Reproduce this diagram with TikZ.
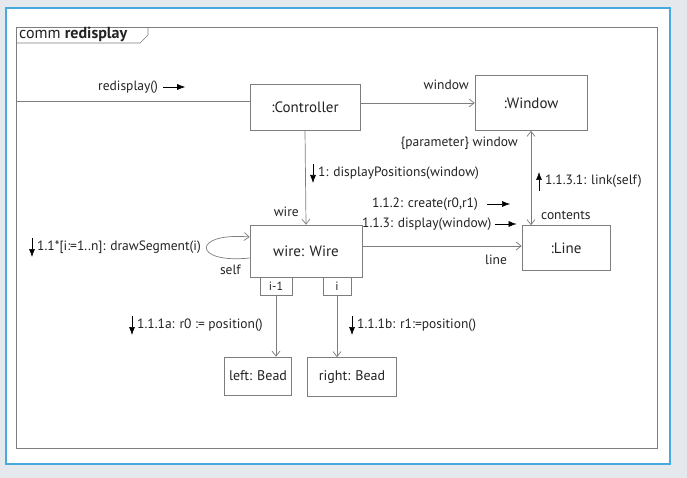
\documentclass[tikz,border=0pt]{standalone}
\usepackage{fontspec}
\setmainfont{PT Sans}
\usetikzlibrary{arrows.meta}
\definecolor{bgc}{RGB}{229,233,237}
\definecolor{panelb}{RGB}{70,170,225}
\definecolor{linec}{RGB}{125,125,125}
\definecolor{txtc}{RGB}{35,35,35}
\tikzset{
  obj/.style={draw=linec, line width=0.7pt, fill=white, inner sep=0pt, text=txtc, font=\fontsize{15}{17}\selectfont},
  port/.style={draw=linec, line width=0.6pt, fill=white, inner sep=0pt, text=txtc, font=\fontsize{12}{14}\selectfont, minimum height=18pt},
  lbl/.style={text=txtc, font=\fontsize{13.5}{15}\selectfont, inner sep=0pt},
  conn/.style={draw=linec, line width=0.7pt, -{Straight Barb[length=5pt,width=8pt]}},
  msg/.style={draw=black, line width=0.6pt, -{Latex[length=8pt,width=6pt]}},
}
\begin{document}
\begin{tikzpicture}[x=1pt,y=-1pt]
\useasboundingbox (0,0) rectangle (687,478);
\fill[bgc] (0,0) rectangle (687,478);
\draw[panelb, line width=1.6pt, fill=white] (6,8) rectangle (670,464);
\draw[linec, line width=0.7pt] (16,27) rectangle (657,448);
\draw[linec, line width=0.7pt] (16,43) -- (140,43) -- (148,35) -- (148,27);
\node[anchor=west, text=txtc, font=\fontsize{16}{18}\selectfont, inner sep=0pt] (title) at (19,34) {comm \textbf{redisplay}};

% objects
\node[obj, minimum width=110pt, minimum height=46pt] (ctrl) at (305,107) {:Controller};
\node[obj, minimum width=112pt, minimum height=55pt] (win) at (531,103) {:Window};
\node[obj, minimum width=112pt, minimum height=52pt] (wire) at (306,251) {wire: Wire};
\node[obj, minimum width=88pt, minimum height=45pt] (line) at (566,248) {:Line};
\node[obj, font=\fontsize{14}{16}\selectfont, minimum width=67pt, minimum height=38pt] (lbead) at (258,376) {left: Bead};
\node[obj, font=\fontsize{14}{16}\selectfont, minimum width=89pt, minimum height=39pt] (rbead) at (352,377) {right: Bead};
\node[port, minimum width=32pt, anchor=north] (pim) at (276,277) {i-1};
\node[port, minimum width=28pt, anchor=north] (pi) at (337,277) {i};

% entry
\coordinate (entry) at (16,101);
\draw[linec, line width=0.7pt] (entry) -- (entry -| ctrl.west);
\node[lbl, anchor=west] (l0) at (98,87) {redisplay()};
\draw[msg] ([xshift=5pt]l0.east) -- ++(22,0);

% controller -> window
\draw[conn] (ctrl.east |- 0,103) -- (win.west |- 0,103);
\node[lbl, anchor=east] (lw) at (469,85) {window};

% controller -> wire
\draw[conn] (ctrl.south) -- (wire.north);
\node[lbl, anchor=west] (l1) at (318,173) {1: displayPositions(window)};
\draw[msg] ([xshift=-5pt,yshift=9pt]l1.west) -- ++(0,19);
\node[lbl, anchor=east] (lwire) at (299,212) {wire};
\node[lbl, anchor=east] (lparam) at (518,143) {\{parameter\} window};

% self loop
\draw[conn] ([yshift=-7pt]wire.west) .. controls (192,264) and (192,232) .. ([yshift=14pt]wire.west);
\node[lbl, anchor=west] (l11) at (37,247) {1.1*[i:=1..n]: drawSegment(i)};
\draw[msg] ([xshift=-5pt,yshift=9pt]l11.west) -- ++(0,19);
\node[lbl, anchor=east] (lself) at (241,270) {self};

% wire -> line
\draw[conn] (wire.east |- 0,246) -- (line.west |- 0,246);
\node[lbl] (lline) at (496,260) {line};
\node[lbl, anchor=west] (l112) at (372,204) {1.1.2: create(r0,r1)};
\draw[msg] ([xshift=9pt]l112.east) -- ++(23,0);
\node[lbl, anchor=west] (l113) at (362,224) {1.1.3: display(window)};
\draw[msg] ([xshift=3pt]l113.east) -- ++(22,0);

% window <-> line
\draw[conn, {Straight Barb[length=5pt,width=8pt]}-{Straight Barb[length=5pt,width=8pt]}] (win.south -| 531,0) -- (line.north -| 531,0);
\node[lbl, anchor=west] (l1131) at (545,181) {1.1.3.1: link(self)};
\draw[msg] ([xshift=-6pt,yshift=-10pt]l1131.west) -- ++(0,-19);
\node[lbl, anchor=west] (lcont) at (541,215) {contents};

% ports -> beads
\draw[conn] (pim.south) -- (lbead.north -| pim.south);
\node[lbl, anchor=west] (l111a) at (137,325) {1.1.1a: r0 := position()};
\draw[msg] ([xshift=-5pt,yshift=9pt]l111a.west) -- ++(0,19);
\draw[conn] (pi.south) -- (rbead.north -| pi.south);
\node[lbl, anchor=west] (l111b) at (357,325) {1.1.1b: r1:=position()};
\draw[msg] ([xshift=-5pt,yshift=9pt]l111b.west) -- ++(0,19);
\end{tikzpicture}
\end{document}
